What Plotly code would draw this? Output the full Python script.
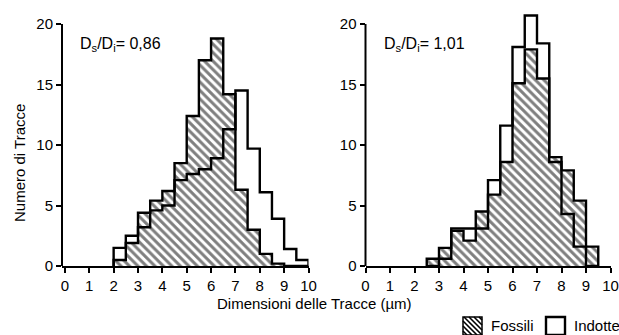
import plotly.graph_objects as go

# ---------------- data (bin width 0.5 µm, left edges) ----------------
bin_width = 0.5
left_bins = [2.0, 2.5, 3.0, 3.5, 4.0, 4.5, 5.0, 5.5, 6.0, 6.5, 7.0, 7.5, 8.0, 8.5, 9.0, 9.5]
left_fossili = [0.5, 1.9, 4.4, 5.4, 6.2, 8.5, 12.4, 17.0, 18.8, 14.2, 6.3, 3.0, 1.0, 0.2, 0.0, 0.0]
left_indotte = [1.5, 2.5, 3.2, 4.6, 5.0, 7.1, 7.6, 8.0, 8.9, 11.3, 14.5, 9.7, 6.1, 3.9, 1.4, 0.5]

right_bins = [2.5, 3.0, 3.5, 4.0, 4.5, 5.0, 5.5, 6.0, 6.5, 7.0, 7.5, 8.0, 8.5, 9.0]
right_fossili = [0.6, 1.5, 2.9, 2.1, 4.5, 5.9, 8.6, 15.1, 17.9, 15.5, 9.0, 7.9, 5.4, 1.6]
right_indotte = [0.0, 0.6, 3.1, 3.1, 3.1, 7.1, 11.6, 18.1, 20.7, 18.4, 8.6, 4.3, 1.6, 0.0]

x_ticks = list(range(0, 11))
y_ticks = [0, 5, 10, 15, 20]
ratio_left = "D<sub>s</sub>/D<sub>i</sub>= 0,86"
ratio_right = "D<sub>s</sub>/D<sub>i</sub>= 1,01"
x_title = "Dimensioni delle Tracce (µm)"
y_title = "Numero di Tracce"
legend_names = ["Fossili", "Indotte"]

W, H = 619, 335
FONT = "Liberation Sans, Arial, sans-serif"
LW = 2.4


def step_xy(edges, vals, w):
    xs, ys = [edges[0]], [0]
    for e, v in zip(edges, vals):
        xs += [e, e + w]
        ys += [v, v]
    xs.append(edges[-1] + w)
    ys.append(0)
    return xs, ys


def px(x):
    return x / W


def py(y):
    return 1 - y / H


fig = go.Figure()

hatch = dict(shape="\\", fgcolor="black", bgcolor="white", size=6, solidity=0.5)

for (bins, fos, ind, xa, ya) in [
    (left_bins, left_fossili, left_indotte, "x", "y"),
    (right_bins, right_fossili, right_indotte, "x2", "y2"),
]:
    fx, fy = step_xy(bins, fos, bin_width)
    fig.add_trace(go.Scatter(
        x=fx, y=fy, mode="lines", fill="tozeroy", fillpattern=hatch,
        fillcolor="white", line=dict(color="black", width=LW),
        xaxis=xa, yaxis=ya, showlegend=False, hoverinfo="skip"))
    ix, iy = step_xy(bins, ind, bin_width)
    fig.add_trace(go.Scatter(
        x=ix, y=iy, mode="lines", line=dict(color="black", width=LW),
        xaxis=xa, yaxis=ya, showlegend=False, hoverinfo="skip"))

y_dom = [py(266), py(11.9)]
axis_font = dict(family=FONT, size=15, color="black")

common_x = dict(
    tickvals=x_ticks, ticktext=[str(t) for t in x_ticks], showline=True,
    linecolor="black", linewidth=2, ticks="outside", ticklen=5, tickwidth=2,
    tickcolor="black", showgrid=False, zeroline=False, tickfont=axis_font,
    fixedrange=True, automargin=False)
common_y = dict(
    range=[0, 21], tickvals=y_ticks, ticks="outside", ticklen=5, tickwidth=2,
    tickcolor="black", showline=False, showgrid=False, zeroline=False,
    tickfont=axis_font, fixedrange=True, automargin=False)

fig.update_layout(
    width=W, height=H, margin=dict(l=0, r=0, t=0, b=0, pad=0, autoexpand=False),
    paper_bgcolor="white", plot_bgcolor="white",
    font=dict(family=FONT, color="black"),
    xaxis=dict(domain=[px(62), px(308.5)], range=[-0.12, 10], anchor="y", **common_x),
    yaxis=dict(domain=y_dom, anchor="x", **common_y),
    xaxis2=dict(domain=[px(365.5), px(610.5)], range=[0, 10], anchor="y2", **common_x),
    yaxis2=dict(domain=y_dom, anchor="x2", **common_y),
)

shapes = []
# y axis lines from 0 to 20
for xr, yr in [("x domain", "y"), ("x2 domain", "y2")]:
    shapes.append(dict(type="line", xref=xr, yref=yr, x0=0, x1=0, y0=0, y1=20,
                       line=dict(color="black", width=2)))

# legend swatches
sx0, sx1, sy0, sy1 = 463, 482, 317, 335
shapes.append(dict(type="rect", xref="paper", yref="paper",
                   x0=px(sx0), x1=px(sx1), y0=py(sy1), y1=py(sy0),
                   line=dict(color="black", width=1.5), fillcolor="white"))
step = 5
k = -(sx1 - sx0)
while k < (sx1 - sx0):
    ax0, ay0 = sx0 + k, sy0
    ax1, ay1 = sx0 + k + (sy1 - sy0), sy1
    if ax0 < sx0:
        ay0 += sx0 - ax0
        ax0 = sx0
    if ax1 > sx1:
        ay1 -= ax1 - sx1
        ax1 = sx1
    if ax1 > ax0:
        shapes.append(dict(type="line", xref="paper", yref="paper",
                           x0=px(ax0), y0=py(ay0), x1=px(ax1), y1=py(ay1),
                           line=dict(color="black", width=1.6)))
    k += step
shapes.append(dict(type="rect", xref="paper", yref="paper",
                   x0=px(546), x1=px(565), y0=py(335), y1=py(317),
                   line=dict(color="black", width=2.4), fillcolor="white"))

fig.update_layout(shapes=shapes)

ann = []
ann.append(dict(text=ratio_left, xref="paper", yref="paper", x=px(78), y=py(45),
                xanchor="left", yanchor="middle", showarrow=False,
                font=dict(family=FONT, size=16, color="black")))
ann.append(dict(text=ratio_right, xref="paper", yref="paper", x=px(382), y=py(45),
                xanchor="left", yanchor="middle", showarrow=False,
                font=dict(family=FONT, size=16, color="black")))
ann.append(dict(text=y_title, xref="paper", yref="paper", x=px(19), y=py(163),
                xanchor="center", yanchor="middle", textangle=-90, showarrow=False,
                font=dict(family=FONT, size=15, color="black")))
ann.append(dict(text=x_title, xref="paper", yref="paper", x=px(314), y=py(303),
                xanchor="center", yanchor="middle", showarrow=False,
                font=dict(family=FONT, size=15, color="black")))
ann.append(dict(text=legend_names[0], xref="paper", yref="paper", x=px(489), y=py(325),
                xanchor="left", yanchor="middle", showarrow=False,
                font=dict(family=FONT, size=15, color="black")))
ann.append(dict(text=legend_names[1], xref="paper", yref="paper", x=px(572), y=py(325),
                xanchor="left", yanchor="middle", showarrow=False,
                font=dict(family=FONT, size=15, color="black")))
fig.update_layout(annotations=ann)

fig.write_html(
    "out.html",
    config={"displayModeBar": False, "staticPlot": True},
    post_script="document.body.style.margin='0';document.body.style.padding='0';"
                "document.body.style.overflow='hidden';",
)
